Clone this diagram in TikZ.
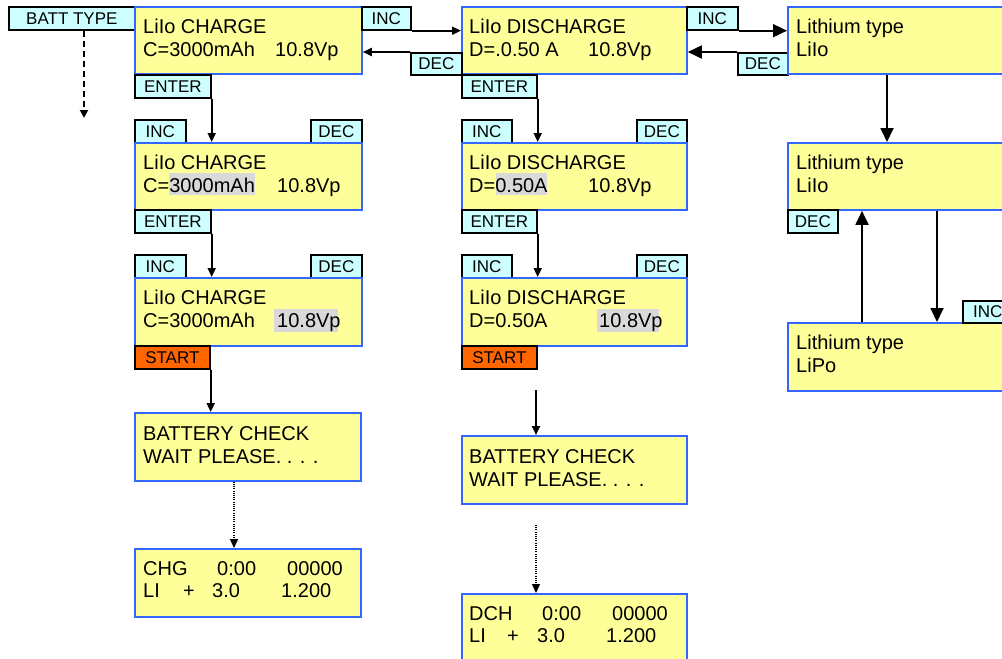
\documentclass[tikz,border=0pt]{standalone}
\usepackage{fontspec}
\setmainfont{Liberation Sans}
\usetikzlibrary{arrows.meta}
\definecolor{lcdyellow}{HTML}{FFFF99}
\definecolor{lcdblue}{HTML}{3366FF}
\definecolor{keycyan}{HTML}{CCFFFF}
\definecolor{startorange}{HTML}{FF6600}
\definecolor{hlgray}{HTML}{D9D9D9}
\begin{document}
\begin{tikzpicture}[x=1pt,y=-1pt,
  lcd/.style={draw=lcdblue, fill=lcdyellow, line width=1.8pt, inner sep=0, anchor=north west, minimum width=226pt, minimum height=67pt},
  key/.style={draw=black, fill=keycyan, line width=1.7pt, inner sep=0, anchor=north west, minimum height=23pt, minimum width=51pt, font=\fontsize{17}{17}\selectfont},
  startkey/.style={key, fill=startorange, minimum width=75pt},
  txt/.style={anchor=base west, inner sep=0, font=\fontsize{20}{20}\selectfont},
  hl/.style={fill=hlgray, inner sep=0, anchor=north west, minimum height=22pt},
  arr/.style={line width=1.8pt, -{Triangle[length=9pt,width=8pt]}},
  bigarr/.style={line width=1.8pt, -{Triangle[length=14pt,width=13pt]}},
  dasharr/.style={line width=1.8pt, dash pattern=on 6pt off 4pt, -{Triangle[length=8pt,width=8pt]}},
  dotarr/.style={line width=1.3pt, dash pattern=on 1pt off 1.2pt, -{Triangle[length=9pt,width=8pt]}}
]
\useasboundingbox (0,0) rectangle (1002,659);
\clip (0,0) rectangle (1002,659);

% ---------- BATT TYPE ----------
\node[key, minimum width=126pt] (batt) at (8,6) {BATT TYPE};
\coordinate (battend) at (84,118);
\draw[dasharr] (batt.south -| battend) -- (battend);

% ---------- Charge column ----------
\node[lcd, minimum width=227pt] (c1) at (134,6) {};
\node[txt] (c1a) at (143,33) {LiIo CHARGE};
\node[txt] (c1b) at (143,56) {C=3000mAh};
\node[txt] (c1c) at (275,56) {10.8Vp};
\node[key, minimum width=76pt] (c1enter) at (134,74) {ENTER};

\node[key] (c2inc) at (134,119) {INC};
\node[key] (c2dec) at (310,119) {DEC};
\node[lcd, minimum width=227pt] (c2) at (134,142) {};
\node[hl, minimum width=86pt] (c2hl) at (169,173) {};
\node[txt] (c2a) at (143,169) {LiIo CHARGE};
\node[txt] (c2b) at (143,192) {C=3000mAh};
\node[txt] (c2c) at (277,192) {10.8Vp};
\node[key, minimum width=76pt] (c2enter) at (134,209) {ENTER};

\node[key] (c3inc) at (134,254) {INC};
\node[key] (c3dec) at (310,254) {DEC};
\node[lcd, minimum width=227pt, minimum height=68pt] (c3) at (134,277) {};
\node[hl, minimum width=64pt, minimum height=23pt] (c3hl) at (274,309) {};
\node[txt] (c3a) at (143,304) {LiIo CHARGE};
\node[txt] (c3b) at (143,327) {C=3000mAh};
\node[txt] (c3c) at (277,327) {10.8Vp};
\node[startkey] (c3start) at (134,345) {START};

\node[lcd, minimum height=68pt] (cbc) at (134,412) {};
\node[txt] (cbca) at (143,440) {BATTERY CHECK};
\node[txt] (cbcb) at (143,463) {WAIT PLEASE. . . .};

\node[lcd, minimum height=68pt] (chg) at (134,548) {};
\node[txt] (chg1) at (143,575) {CHG};
\node[txt] (chg2) at (217,575) {0:00};
\node[txt] (chg3) at (287,575) {00000};
\node[txt] (chg4) at (143,597) {LI};
\node[txt] (chg5) at (183,597) {+};
\node[txt] (chg6) at (212,597) {3.0};
\node[txt] (chg7) at (281,597) {1.200};

\draw[arr] (c1enter.south east) -- (c2.north -| c1enter.south east);
\draw[arr] (c2enter.south east) -- (c3.north -| c2enter.south east);
\draw[arr] (c3start.south east) -- (cbc.north -| c3start.south east);
\coordinate (cdot) at (234,480);
\draw[dotarr] (cbc.south -| cdot) -- (chg.north -| cdot);

% ---------- Discharge column ----------
\node[lcd, minimum width=225pt] (d1) at (461,6) {};
\node[txt] (d1a) at (469,33) {LiIo DISCHARGE};
\node[txt] (d1b) at (469,56) {D=.0.50 A};
\node[txt] (d1c) at (588,56) {10.8Vp};
\node[key, minimum width=75pt] (d1enter) at (461,74) {ENTER};

\node[key, minimum width=50pt] (d2inc) at (461,119) {INC};
\node[key, minimum width=50pt] (d2dec) at (636,119) {DEC};
\node[lcd, minimum width=225pt] (d2) at (461,142) {};
\node[hl, minimum width=51pt] (d2hl) at (496,173) {};
\node[txt] (d2a) at (469,169) {LiIo DISCHARGE};
\node[txt] (d2b) at (469,192) {D=0.50A};
\node[txt] (d2c) at (588,192) {10.8Vp};
\node[key, minimum width=75pt] (d2enter) at (461,209) {ENTER};

\node[key, minimum width=50pt] (d3inc) at (461,254) {INC};
\node[key, minimum width=50pt] (d3dec) at (636,254) {DEC};
\node[lcd, minimum width=225pt, minimum height=68pt] (d3) at (461,277) {};
\node[hl, minimum width=62pt, minimum height=23pt] (d3hl) at (597,309) {};
\node[txt] (d3a) at (469,304) {LiIo DISCHARGE};
\node[txt] (d3b) at (469,327) {D=0.50A};
\node[txt] (d3c) at (599,327) {10.8Vp};
\node[startkey] (d3start) at (461,345) {START};

\node[lcd, minimum width=225pt, minimum height=68pt] (dbc) at (461,435) {};
\node[txt] (dbca) at (469,463) {BATTERY CHECK};
\node[txt] (dbcb) at (469,486) {WAIT PLEASE. . . .};

\node[lcd, minimum width=225pt, minimum height=80pt] (dch) at (461,593) {};
\node[txt] (dch1) at (469,620) {DCH};
\node[txt] (dch2) at (542,620) {0:00};
\node[txt] (dch3) at (612,620) {00000};
\node[txt] (dch4) at (469,642) {LI};
\node[txt] (dch5) at (507,642) {+};
\node[txt] (dch6) at (537,642) {3.0};
\node[txt] (dch7) at (606,642) {1.200};

\draw[arr] (d1enter.south east) -- (d2.north -| d1enter.south east);
\draw[arr] (d2enter.south east) -- (d3.north -| d2enter.south east);
\coordinate (dfree) at (536,390);
\draw[arr] (dfree) -- (dbc.north -| dfree);
\coordinate (ddot) at (536,525);
\draw[dotarr] (ddot) -- (dch.north -| ddot);

% ---------- top INC/DEC ----------
\node[key, minimum width=49pt] (inc1) at (361,6) {INC};
\node[key, minimum height=22pt] (dec1) at (410,52) {DEC};
\draw[arr] (inc1.south east) -- (d1.west |- inc1.south east);
\draw[arr] (dec1.north west) -- (c1.east |- dec1.north west);

\node[key] (inc2) at (686,6) {INC};
\node[key, minimum width=50pt, minimum height=22pt] (dec2) at (737,52) {DEC};

% ---------- Lithium column ----------
\node[lcd, minimum width=230pt] (l1) at (787,6) {};
\node[txt] (l1a) at (796,33) {Lithium type};
\node[txt] (l1b) at (796,56) {LiIo};

\node[lcd, minimum width=230pt] (l2) at (787,142) {};
\node[txt] (l2a) at (796,169) {Lithium type};
\node[txt] (l2b) at (796,192) {LiIo};
\node[key, minimum width=50pt] (l2dec) at (787,209) {DEC};

\node[lcd, minimum width=230pt, minimum height=68pt] (l3) at (787,322) {};
\node[txt] (l3a) at (796,349) {Lithium type};
\node[txt] (l3b) at (796,372) {LiPo};
\node[key, minimum width=50pt, minimum height=22pt] (l3inc) at (962,300) {INC};

\draw[bigarr] (inc2.south east) -- (l1.west |- inc2.south east);
\draw[bigarr] (dec2.north west) -- (d1.east |- dec2.north west);

\coordinate (lx1) at (887,0);
\coordinate (lx2) at (862,0);
\coordinate (lx3) at (937,0);
\draw[bigarr] (l1.south -| lx1) -- (l2.north -| lx1);
\draw[bigarr] (l3.north -| lx2) -- (l2.south -| lx2);
\draw[bigarr] (l2.south -| lx3) -- (l3.north -| lx3);
\end{tikzpicture}
\end{document}
